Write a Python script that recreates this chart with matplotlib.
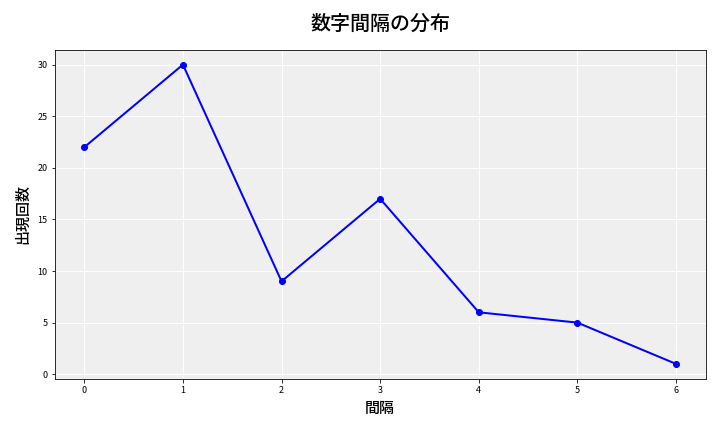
import numpy as np
import matplotlib
matplotlib.use("Agg")
import matplotlib.pyplot as plt

plt.rcParams['font.family'] = ['Noto Sans CJK JP', 'DejaVu Sans']

intervals = [0, 1, 2, 3, 4, 5, 6]
counts = [22, 30, 9, 17, 6, 5, 1]

fig, ax = plt.subplots(figsize=(10, 6), dpi=72)
fig.subplots_adjust(left=0.076, right=0.98, top=0.885, bottom=0.123)

ax.set_facecolor('#efefef')
ax.grid(True, color='white', linewidth=1)
ax.set_axisbelow(True)
ax.plot(intervals, counts, color='blue', marker='o', linewidth=2, markersize=6)

ax.set_title('数字間隔の分布', fontsize=20, fontweight='medium', pad=20)
ax.set_xlabel('間隔', fontsize=15, fontweight='medium', labelpad=5)
ax.set_ylabel('出現回数', fontsize=15, fontweight='medium', labelpad=6)
ax.tick_params(labelsize=9)
ax.set_xticks(intervals)
ax.set_yticks([0, 5, 10, 15, 20, 25, 30])

fig.savefig('out.png', dpi=72)
